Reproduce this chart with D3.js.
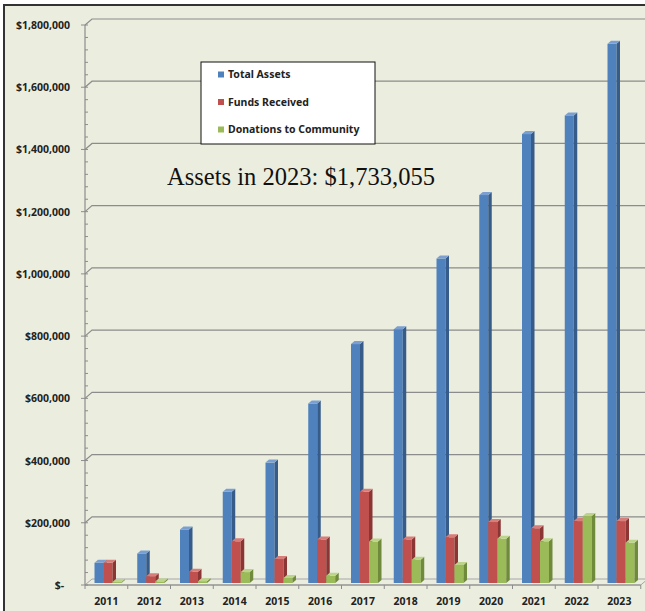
<!DOCTYPE html>
<html lang="en">
<head>
    <meta charset="UTF-8">
    <title>Assets chart</title>
    <script src="https://d3js.org/d3.v7.min.js"></script>
    <style>
        body { margin: 0; background: #fff; }
        text { font-family: "Noto Sans", "DejaVu Sans", sans-serif; }
    </style>
</head>
<body>

<div id="my_dataviz"></div>

<script>
    var years = ["2011", "2012", "2013", "2014", "2015", "2016", "2017", "2018", "2019", "2020", "2021", "2022", "2023"]
    var totalAssets = [65000, 95000, 172000, 293000, 387000, 577000, 768000, 816000, 1043000, 1247000, 1443000, 1503000, 1733055]
    var fundsReceived = [65000, 22000, 36000, 134000, 77000, 140000, 293000, 140000, 147000, 196000, 176000, 199000, 199000]
    var donations = [3000, 5000, 6000, 35000, 16000, 23000, 133000, 75000, 58000, 142000, 134000, 215000, 129000]
    var seriesNames = ["Total Assets", "Funds Received", "Donations to Community"]
    var yTicks = [0, 200000, 400000, 600000, 800000, 1000000, 1200000, 1400000, 1600000, 1800000]

    var series = [
        {name: seriesNames[0], values: totalAssets, front: "#4f81bd", side: "#375c8a", top: "#7a9fd0"},
        {name: seriesNames[1], values: fundsReceived, front: "#c0504d", side: "#8b3634", top: "#d77d7a"},
        {name: seriesNames[2], values: donations, front: "#9bbb59", side: "#6f8a3b", top: "#bcd48a"}
    ]

    var W = 645, H = 611
    var depthX = 7, depthY = 6   // wall / floor depth
    var barDX = 3.5, barDY = 3   // bar side depth

    var svg = d3.select("#my_dataviz").append("svg")
        .attr("width", W)
        .attr("height", H)

    // background and frame
    svg.append("rect").attr("x", 4).attr("y", 5).attr("width", W - 4).attr("height", H - 5)
        .attr("fill", "#ebeedf")
    svg.append("path").attr("d", "M4," + H + "V5H" + W)
        .attr("fill", "none").attr("stroke", "#333").attr("stroke-width", 2)

    var x = d3.scaleBand().domain(years).range([85, 640.75])
    var xs = d3.scaleBand().domain(seriesNames).range([9.5, 36.5])
    var y = d3.scaleLinear().domain([0, 1800000]).range([585, 25])

    // gridlines on the back wall
    var grid = svg.append("g")
    yTicks.forEach(function(t) {
        if (t === 0) return
        grid.append("path")
            .attr("d", "M85," + y(t) + "L" + (85 + depthX) + "," + (y(t) - depthY) + "H" + W)
            .attr("fill", "none").attr("stroke", "#8c8c8c").attr("stroke-width", 1.2)
    })

    // floor
    var x0 = x.range()[0], x1 = x.range()[1]
    svg.append("path")
        .attr("d", "M" + x0 + "," + y(0) + "L" + (x0 + depthX) + "," + (y(0) - depthY) +
            "H" + (x1 + depthX) + "L" + x1 + "," + y(0) + "Z")
        .attr("fill", "#ebeedf").attr("stroke", "#a6a6a6").attr("stroke-width", 1)

    // y axis
    var yAxis = svg.append("g")
    yAxis.append("line").attr("x1", 85).attr("x2", 85).attr("y1", y(1800000)).attr("y2", y(0))
        .attr("stroke", "#8c8c8c").attr("stroke-width", 1.2)
    d3.range(0, 1800001, 40000).forEach(function(t) {
        yAxis.append("line").attr("x1", 85).attr("x2", 88).attr("y1", y(t)).attr("y2", y(t))
            .attr("stroke", "#8c8c8c")
    })
    yTicks.forEach(function(t) {
        yAxis.append("line").attr("x1", 81).attr("x2", 85).attr("y1", y(t)).attr("y2", y(t))
            .attr("stroke", "#8c8c8c")
        yAxis.append("text")
            .attr("x", t === 0 ? 64 : 70).attr("y", y(t) + 4)
            .attr("text-anchor", "end")
            .attr("font-size", "10.5px").attr("font-weight", "bold").attr("fill", "#222")
            .text(t === 0 ? "$-" : d3.format("$,")(t))
    })

    // x axis
    var xAxis = svg.append("g")
    xAxis.append("line").attr("x1", x0).attr("x2", x1).attr("y1", y(0)).attr("y2", y(0))
        .attr("stroke", "#8c8c8c").attr("stroke-width", 1.2)
    years.concat(["end"]).forEach(function(d, i) {
        var px = x0 + i * x.bandwidth()
        xAxis.append("line").attr("x1", px).attr("x2", px).attr("y1", y(0)).attr("y2", y(0) + 4)
            .attr("stroke", "#8c8c8c")
    })
    years.forEach(function(d) {
        xAxis.append("text")
            .attr("x", x(d) + x.bandwidth() / 2).attr("y", 605)
            .attr("text-anchor", "middle")
            .attr("font-size", "10.5px").attr("font-weight", "bold").attr("fill", "#222")
            .text(d)
    })

    // 3D columns
    var bars = svg.append("g").attr("transform", "translate(0,-2)")
    years.forEach(function(d, i) {
        series.forEach(function(s) {
            var bx = x(d) + xs(s.name), bw = xs.bandwidth()
            var by = y(s.values[i]), bb = y(0)
            bars.append("rect").attr("x", bx).attr("y", by).attr("width", bw).attr("height", bb - by)
                .attr("fill", s.front)
            bars.append("path")
                .attr("d", "M" + (bx + bw) + "," + by + "L" + (bx + bw + barDX) + "," + (by - barDY) +
                    "V" + (bb - barDY) + "L" + (bx + bw) + "," + bb + "Z")
                .attr("fill", s.side)
            bars.append("path")
                .attr("d", "M" + bx + "," + by + "L" + (bx + barDX) + "," + (by - barDY) +
                    "H" + (bx + bw + barDX) + "L" + (bx + bw) + "," + by + "Z")
                .attr("fill", s.top)
        })
    })

    // legend
    var legend = svg.append("g")
    legend.append("rect").attr("x", 201).attr("y", 62).attr("width", 174).attr("height", 82)
        .attr("fill", "#fff").attr("stroke", "#111").attr("stroke-width", 1)
    series.forEach(function(s, i) {
        var ly = 78 + i * 27.5
        legend.append("rect").attr("x", 218).attr("y", ly - 6.5).attr("width", 6).attr("height", 6)
            .attr("fill", s.front)
        legend.append("text").attr("x", 228).attr("y", ly)
            .attr("font-size", "10.5px").attr("font-weight", "bold").attr("fill", "#222")
            .text(s.name)
    })

    // annotation (serif, set as style so the sheet rule does not win)
    svg.append("text")
        .attr("x", 167).attr("y", 185)
        .style("font-family", "'Liberation Serif', 'DejaVu Serif', serif")
        .attr("font-size", "25px").attr("fill", "#111")
        .attr("textLength", 268).attr("lengthAdjust", "spacingAndGlyphs")
        .text("Assets in 2023: " + d3.format("$,")(totalAssets[12]))
</script>

</body>
</html>
